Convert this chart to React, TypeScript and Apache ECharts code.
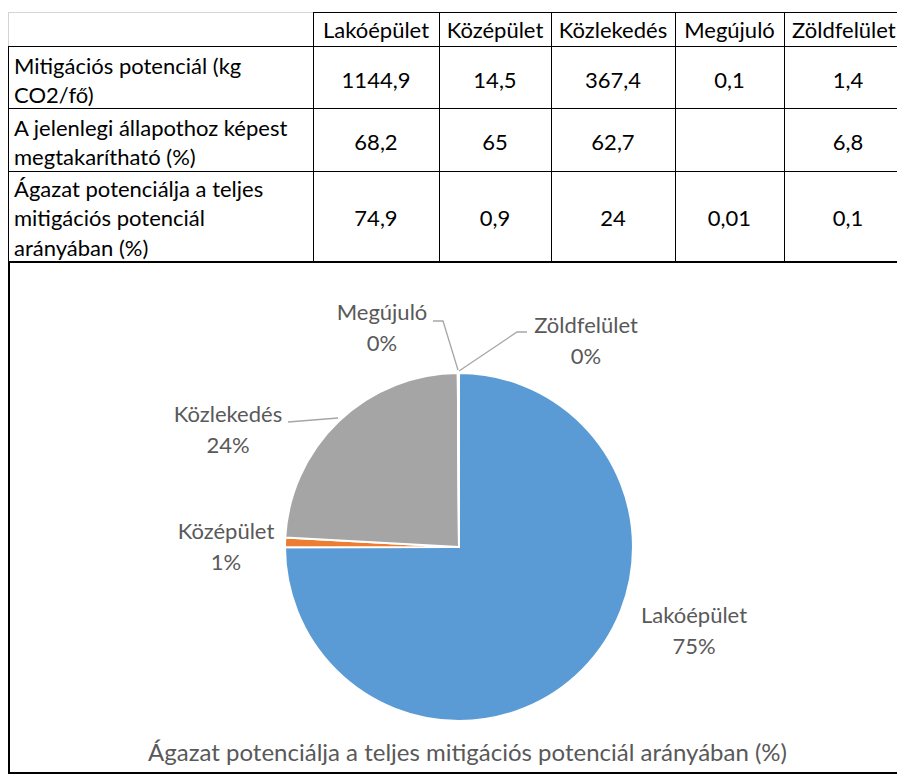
import React, { useEffect, useRef } from "react";
import * as echarts from "echarts";

// ---------- data ----------
const categories = ["Lakóépület", "Középület", "Közlekedés", "Megújuló", "Zöldfelület"];
const rowLabels = [
  "Mitigációs potenciál (kg\nCO2/fő)",
  "A jelenlegi állapothoz képest\nmegtakarítható (%)",
  "Ágazat potenciálja a teljes\nmitigációs potenciál\narányában (%)",
];
const mitigationPotential = [1144.9, 14.5, 367.4, 0.1, 1.4];
const savingsPercent: (number | null)[] = [68.2, 65, 62.7, null, 6.8];
const sharePercent = [74.9, 0.9, 24, 0.01, 0.1];
const chartTitle = "Ágazat potenciálja a teljes mitigációs potenciál arányában (%)";

// ---------- styling / layout constants ----------
const COLORS = ["#5B9BD5", "#ED7D31", "#A5A5A5", "#FFC000", "#4472C4"];
const FONT = "Lato, 'Open Sans', sans-serif";
const TABLE_FS = 22;
const colX = [8, 313, 439, 551, 675, 784, 912];
const rowY = [12, 46, 108, 171, 261];
const valueY = [29, 79, 141, 217];
const labelTopY = [50.5, 112.5, 173.5];
const PIE_CX = 459;
const PIE_CY = 547;
const PIE_R = 174;
const LABEL_LAYOUT: { x: number; y: number; line: number[][] | null }[] = [
  { x: 694, y: 630, line: null },
  { x: 226, y: 546, line: null },
  { x: 228, y: 429, line: [[338, 418], [288, 422]] },
  { x: 382, y: 327, line: [[458, 370], [443, 321], [433, 321]] },
  { x: 586, y: 340, line: [[459, 371], [517, 332], [527, 332]] },
];

const fmt = (v: number | null) => (v == null ? "" : String(v).replace(".", ","));

function buildTableGraphics() {
  const els: any[] = [];
  const black = { stroke: "#000", lineWidth: 1 };
  const grid = { stroke: "#D4D4D4", lineWidth: 1 };
  const hLine = (y: number, x1: number, x2: number, style: any) =>
    els.push({ type: "line", shape: { x1, y1: y + 0.5, x2, y2: y + 0.5 }, style, silent: true });
  const vLine = (x: number, y1: number, y2: number, style: any) =>
    els.push({ type: "line", shape: { x1: x + 0.5, y1, x2: x + 0.5, y2 }, style, silent: true });

  // header gridlines for the empty corner cell
  hLine(rowY[0], colX[0], colX[1], grid);
  vLine(colX[0], rowY[0], rowY[1], grid);
  // table borders
  hLine(rowY[0], colX[1], colX[colX.length - 1], black);
  for (let r = 1; r < rowY.length - 1; r++) hLine(rowY[r], colX[0], colX[colX.length - 1], black);
  vLine(colX[0], rowY[1], rowY[rowY.length - 1], black);
  for (let c = 1; c < colX.length; c++) vLine(colX[c], rowY[0], rowY[rowY.length - 1], black);

  // header texts (the last one is kept inside the visible page)
  categories.forEach((cat, i) => {
    const last = i === categories.length - 1;
    els.push({
      type: "text",
      x: last ? colX[i + 1] + 8 : (colX[i + 1] + colX[i + 2]) / 2,
      y: valueY[0],
      silent: true,
      style: {
        text: cat,
        fill: "#000",
        font: `${TABLE_FS}px ${FONT}`,
        align: last ? "left" : "center",
        verticalAlign: "middle",
      },
    });
  });
  // row labels
  rowLabels.forEach((lab, r) => {
    els.push({
      type: "text",
      x: 14,
      y: labelTopY[r],
      silent: true,
      style: {
        text: lab,
        fill: "#000",
        font: `${TABLE_FS}px ${FONT}`,
        lineHeight: 29.5,
        align: "left",
        verticalAlign: "top",
      },
    });
  });
  // values
  const rows = [mitigationPotential, savingsPercent, sharePercent];
  rows.forEach((vals, r) => {
    vals.forEach((v, i) => {
      if (v == null) return;
      els.push({
        type: "text",
        x: (colX[i + 1] + colX[i + 2]) / 2,
        y: valueY[r + 1],
        silent: true,
        style: { text: fmt(v), fill: "#000", font: `${TABLE_FS}px ${FONT}`, align: "center", verticalAlign: "middle" },
      });
    });
  });
  // chart area border
  els.push({
    type: "rect",
    shape: { x: 9, y: 262, width: 900, height: 511 },
    style: { fill: "none", stroke: "#000", lineWidth: 2 },
    silent: true,
  });
  return els;
}

export default function App() {
  const ref = useRef<HTMLDivElement>(null);
  useEffect(() => {
    if (!ref.current) return;
    const chart = echarts.init(ref.current, null, { renderer: "svg" });
    const noLine = new Set([0, 1]);
    chart.setOption({
      animation: false,
      backgroundColor: "#fff",
      title: {
        text: chartTitle,
        left: 143,
        top: 731,
        textStyle: { fontFamily: FONT, fontSize: 24, lineHeight: 30, color: "#595959", fontWeight: "normal" },
      },
      graphic: buildTableGraphics(),
      series: [
        {
          type: "pie",
          center: [PIE_CX, PIE_CY],
          radius: PIE_R,
          startAngle: 90,
          clockwise: true,
          avoidLabelOverlap: false,
          percentPrecision: 0,
          itemStyle: { borderColor: "#fff", borderWidth: 2 },
          emphasis: { disabled: true },
          label: {
            show: true,
            position: "outside",
            formatter: "{b}\n{d}%",
            color: "#595959",
            fontFamily: FONT,
            fontSize: 22,
            lineHeight: 31,
            align: "center",
          },
          labelLine: { show: true, length: 10, length2: 10, lineStyle: { color: "#A6A6A6", width: 1.3 } },
          labelLayout: (params: any) => {
            const L = LABEL_LAYOUT[params.dataIndex];
            const out: any = { x: L.x, y: L.y, align: "center", verticalAlign: "middle" };
            if (L.line) out.labelLinePoints = L.line;
            return out;
          },
          data: categories.map((name, i) => ({
            name,
            value: sharePercent[i],
            itemStyle: { color: COLORS[i] },
            labelLine: { show: !noLine.has(i) },
          })),
        },
      ],
    });
    return () => chart.dispose();
  }, []);
  return (
    <div
      ref={ref}
      style={{ position: "fixed", left: 0, top: 0, width: 897, height: 776, background: "#fff" }}
    />
  );
}
